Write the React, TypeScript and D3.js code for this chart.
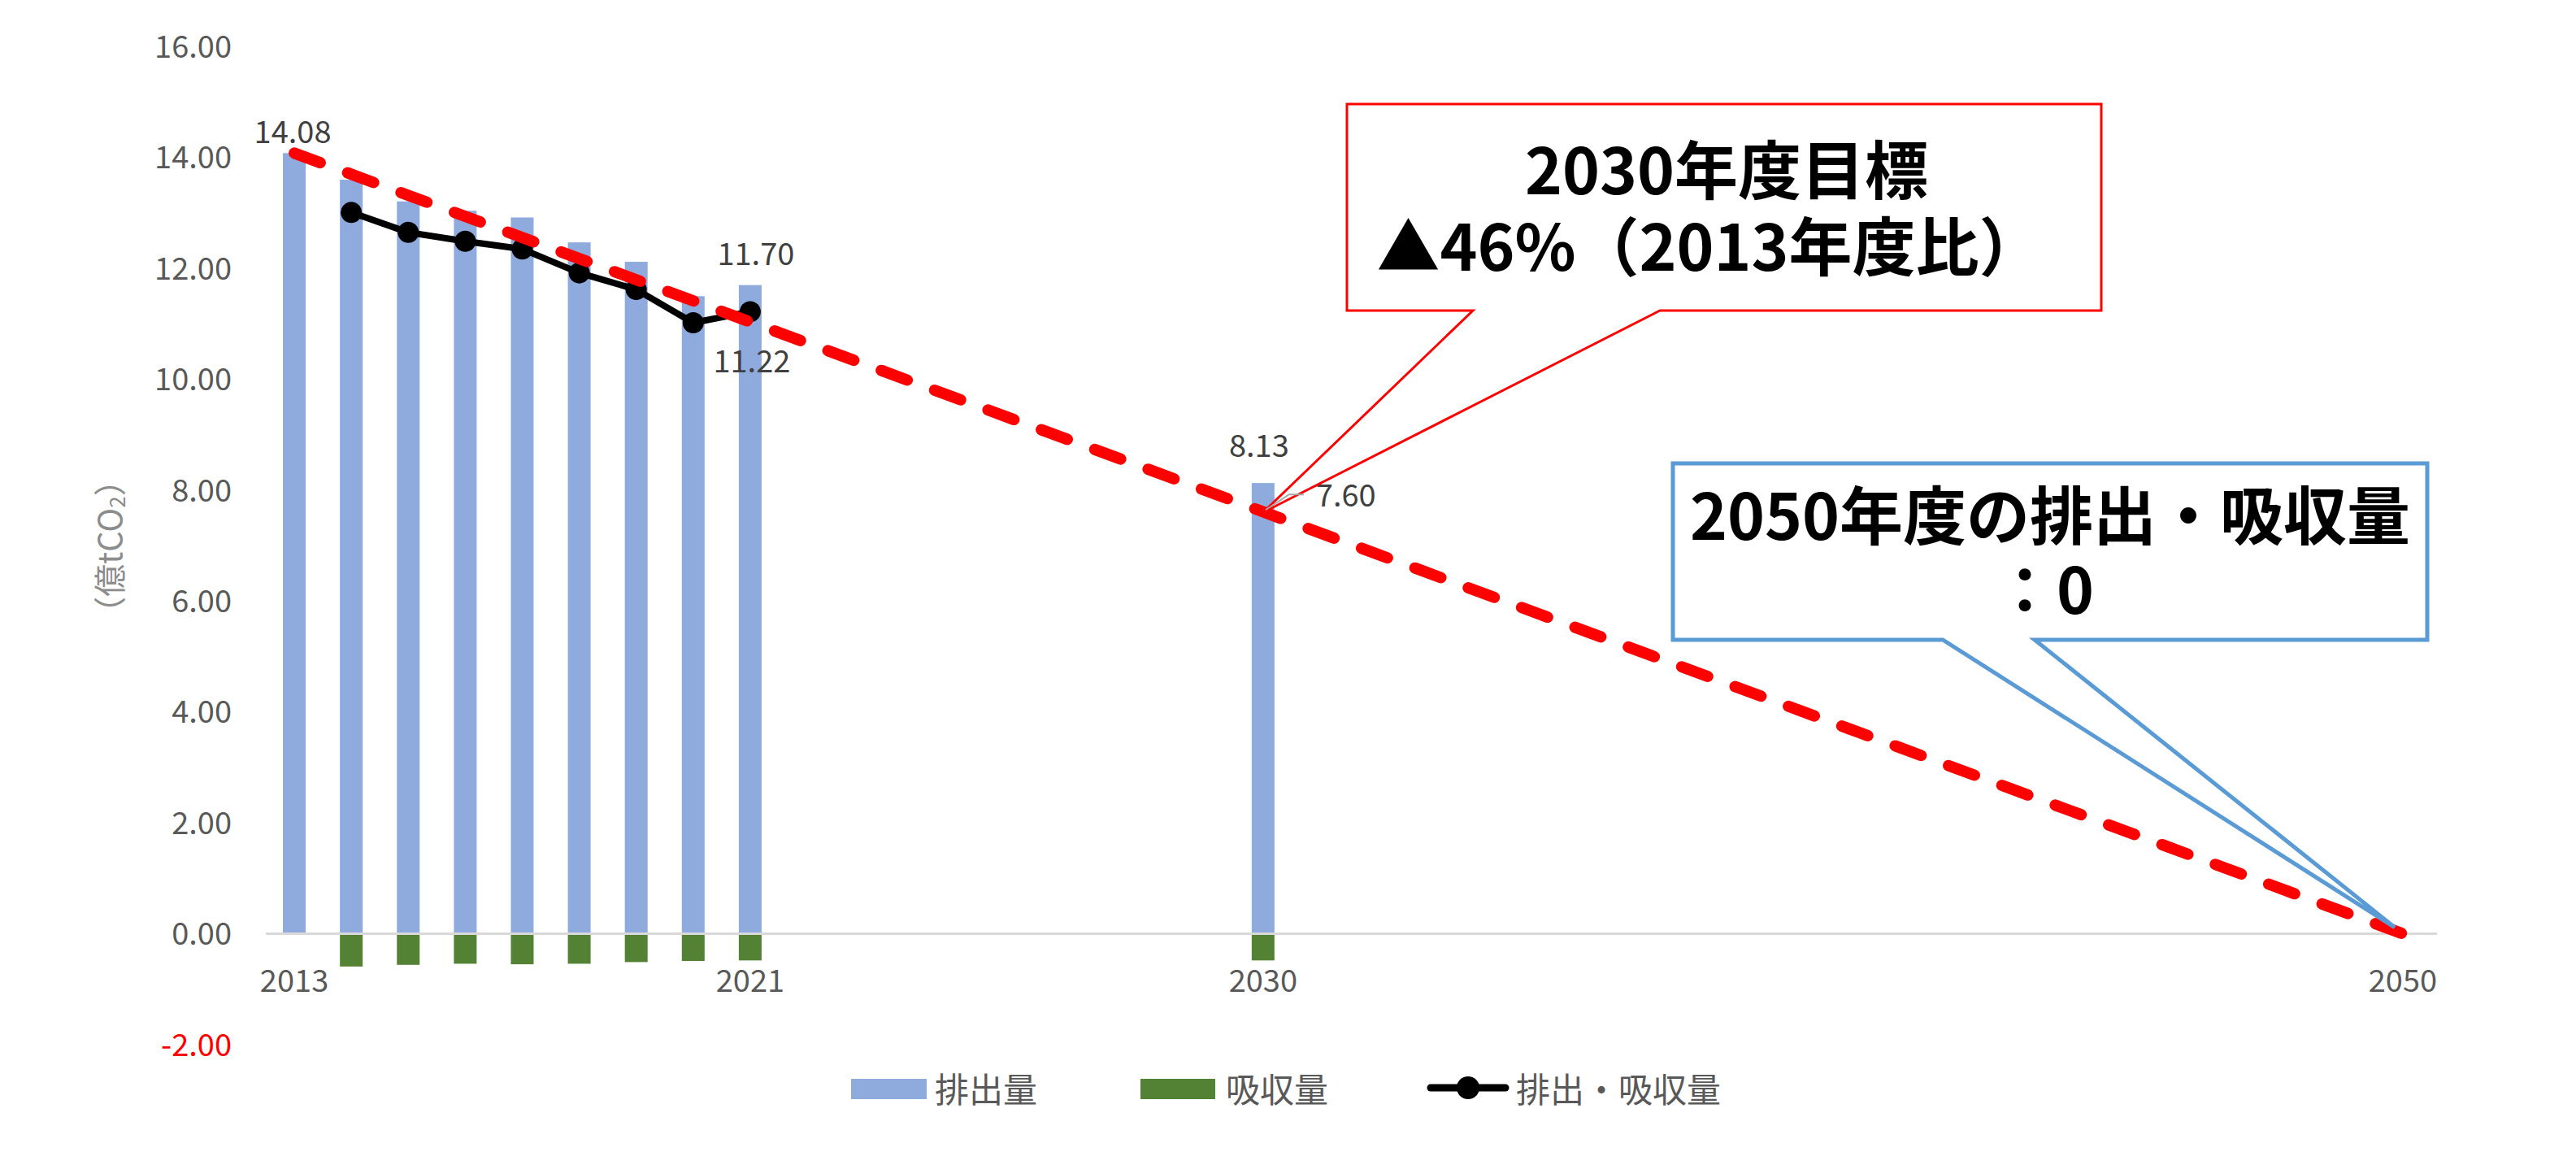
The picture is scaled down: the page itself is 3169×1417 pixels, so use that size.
import React from "react";
import * as d3 from "d3";

const W = 3169;
const H = 1417;

const emissionYears = [2013, 2014, 2015, 2016, 2017, 2018, 2019, 2020, 2021, 2030];
const emissions = [14.08, 13.6, 13.21, 13.04, 12.92, 12.47, 12.12, 11.5, 11.7, 8.13];

const absorptionYears = [2014, 2015, 2016, 2017, 2018, 2019, 2020, 2021, 2030];
const absorption = [-0.59, -0.56, -0.54, -0.55, -0.54, -0.51, -0.49, -0.48, -0.48];

const netYears = [2014, 2015, 2016, 2017, 2018, 2019, 2020, 2021];
const net = [13.01, 12.65, 12.49, 12.35, 11.92, 11.62, 11.02, 11.22];

const targetYears = [2013, 2050];
const target = [14.08, 0];

const yTicks = [-2, 0, 2, 4, 6, 8, 10, 12, 14, 16];
const xTickYears = [2013, 2021, 2030, 2050];

const legendLabels = ["排出量", "吸収量", "排出・吸収量"];

const FONT = "'Noto Sans CJK JP', 'Noto Sans', sans-serif";
const BLUE = "#8FAADC";
const GREEN = "#548235";
const RED = "#FF0000";

export default function App() {
  const x = d3.scaleLinear().domain([2012.5, 2050.5]).range([327, 2991]);
  const y = d3.scaleLinear().domain([-2, 16]).range([1285, 57.4]);
  const barW = 28;
  const fmt = (v: number) => v.toFixed(2);

  const netLine = d3
    .line<number>()
    .x((_, i) => x(netYears[i]))
    .y((d) => y(d))(net) as string;

  const targetLine = d3
    .line<number>()
    .x((_, i) => x(targetYears[i]))
    .y((d) => y(d))(target) as string;

  const x2030 = x(2030);
  const y760 = y(7.6);

  return (
    <svg
      width={W}
      height={H}
      style={{ position: "absolute", left: 0, top: 0, background: "#fff" }}
      fontFamily={FONT}
    >
      <rect x={0} y={0} width={W} height={H} fill="#fff" />

      {/* y axis title */}
      <text
        transform={`translate(133,672) rotate(-90)`}
        textAnchor="middle"
        dominantBaseline="central"
        fontSize={40}
        fill="#8C8C8C"
      >
        （億tCO<tspan fontSize={26} dy={9}>2</tspan>
        <tspan dy={-9}>）</tspan>
      </text>

      {/* y tick labels */}
      {yTicks.map((t) => (
        <text
          key={t}
          x={285}
          y={y(t)}
          dy="0.36em"
          textAnchor="end"
          fontSize={38}
          fill={t < 0 ? RED : "#595959"}
        >
          {fmt(t)}
        </text>
      ))}

      {/* emission bars */}
      {emissions.map((v, i) => (
        <rect
          key={"e" + i}
          x={x(emissionYears[i]) - barW / 2}
          y={y(v)}
          width={barW}
          height={y(0) - y(v)}
          fill={BLUE}
        />
      ))}

      {/* absorption bars */}
      {absorption.map((v, i) => (
        <rect
          key={"a" + i}
          x={x(absorptionYears[i]) - barW / 2}
          y={y(0)}
          width={barW}
          height={y(v) - y(0)}
          fill={GREEN}
        />
      ))}

      {/* zero line */}
      <line x1={327} x2={2998} y1={y(0)} y2={y(0)} stroke="#D9D9D9" strokeWidth={3} />

      {/* x tick labels */}
      {xTickYears.map((yr) => (
        <text key={yr} x={x(yr)} y={1220} textAnchor="middle" fontSize={38} fill="#595959">
          {yr}
        </text>
      ))}

      {/* net line */}
      <path d={netLine} fill="none" stroke="#000" strokeWidth={8} strokeLinejoin="round" />
      {net.map((v, i) => (
        <circle key={"n" + i} cx={x(netYears[i])} cy={y(v)} r={13} fill="#000" />
      ))}

      {/* target dashed line */}
      <path
        d={targetLine}
        fill="none"
        stroke={RED}
        strokeWidth={14}
        strokeDasharray="34 36"
        strokeLinecap="round"
      />

      {/* data labels */}
      <g fontSize={38} fill="#404040">
        <text x={x(2013) - 2} y={y(14.08) - 12} textAnchor="middle">14.08</text>
        <text x={x(2021) + 7} y={y(11.7) - 25} textAnchor="middle">11.70</text>
        <text x={x(2021) + 2} y={y(11.22) + 75} textAnchor="middle">11.22</text>
        <text x={x2030 - 5} y={y(8.13) - 32} textAnchor="middle">8.13</text>
        <text x={x2030 + 65} y={y760 - 7}>7.60</text>
      </g>

      {/* callout 1 */}
      <path
        d={`M1657,128 H2585 V382 H2042 L${x2030},${y760} L1812,382 H1657 Z`}
        fill="#fff"
        stroke={RED}
        strokeWidth={3}
      />
      <g fontSize={78} fontWeight={700} fill="#000" textAnchor="middle">
        <text x={2124} y={239}>2030年度目標</text>
        <text x={2103} y={333}>▲46%（2013年度比）</text>
      </g>

      {/* leader for 7.60 */}
      <path
        d={`M${x2030 + 3},${y760 - 3} L${x2030 + 32},${y760 - 22} H${x2030 + 50}`}
        fill="none"
        stroke="#A6A6A6"
        strokeWidth={2}
      />

      {/* callout 2 */}
      <path
        d={`M2058,570 H2986 V787 H2503 L${x(2050) - 10},${y(0) - 8} L2390,787 H2058 Z`}
        fill="#fff"
        stroke="#5B9BD5"
        strokeWidth={5}
      />
      <g fontSize={78} fontWeight={700} fill="#000" textAnchor="middle">
        <text x={2522} y={664}>2050年度の排出・吸収量</text>
        <text x={2514} y={755}>：0</text>
      </g>

      {/* legend */}
      <g fontSize={42} fill="#595959">
        <rect x={1047} y={1327} width={93} height={25} fill={BLUE} />
        <text x={1150} y={1337} dominantBaseline="central">{legendLabels[0]}</text>
        <rect x={1403} y={1327} width={92} height={25} fill={GREEN} />
        <text x={1508} y={1337} dominantBaseline="central">{legendLabels[1]}</text>
        <line x1={1760} x2={1852} y1={1338} y2={1338} stroke="#000" strokeWidth={9} strokeLinecap="round" />
        <circle cx={1806} cy={1338} r={14} fill="#000" />
        <text x={1865} y={1337} dominantBaseline="central">{legendLabels[2]}</text>
      </g>
    </svg>
  );
}
